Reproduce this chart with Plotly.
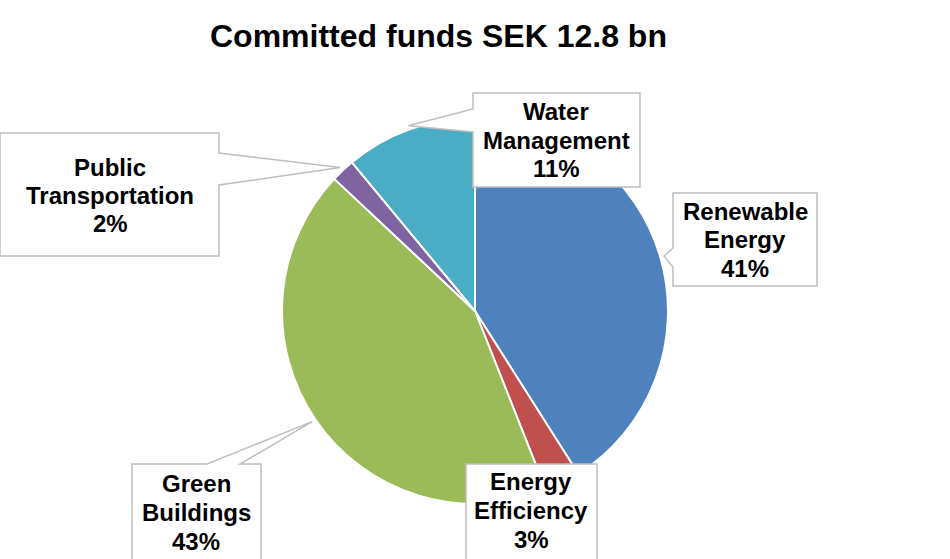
import math
import plotly.graph_objects as go

# ---------------- data ----------------
categories = ["Renewable Energy", "Energy Efficiency", "Green Buildings",
              "Public Transportation", "Water Management"]
shares = [41, 3, 43, 2, 11]
colors = ["#4F81BD", "#C0504D", "#9BBB59", "#8064A2", "#4BACC6"]
title_text = "Committed funds SEK 12.8 bn"

# ---------------- layout constants (pixels) ----------------
W, H = 950, 559
CX, CY, R = 475, 311, 193
LABEL_SIZE = 24

def px2paper(x, y):
    return x / W, 1 - y / H

# label boxes: (x0, y0, x1, y1), pointer side, pointer base (a, b), text centre x, baselines
label_layout = {
    "Renewable Energy": dict(box=(673, 193, 817, 286), side="left", base=(248, 267),
                             tx=745, lines=["Renewable", "Energy"], base_y=[220, 248, 277]),
    "Energy Efficiency": dict(box=(466, 464, 597, 600), side=None, base=None,
                              tx=531, lines=["Energy", "Efficiency"], base_y=[490, 519, 548]),
    "Green Buildings": dict(box=(132, 464, 261, 600), side="top", base=(207, 240),
                            tx=196, lines=["Green", "Buildings"], base_y=[492, 521, 550]),
    "Public Transportation": dict(box=(0, 133, 219, 256), side="right", base=(153, 185),
                                  tx=110, lines=["Public", "Transportation"], base_y=[176, 204, 232]),
    "Water Management": dict(box=(473, 93, 640, 187), side="left", base=(109, 132),
                             tx=556, lines=["Water", "Management"], base_y=[120, 149, 177]),
}

fig = go.Figure()

x0d, y0d = (CX - R) / W, 1 - (CY + R) / H
x1d, y1d = (CX + R) / W, 1 - (CY - R) / H
fig.add_trace(go.Pie(
    labels=categories, values=shares, sort=False, direction="clockwise", rotation=0,
    marker=dict(colors=colors, line=dict(color="white", width=2)),
    textinfo="none", hoverinfo="label+percent", showlegend=False,
    domain=dict(x=[x0d, x1d], y=[y0d, y1d]),
))

total = sum(shares)
cum = 0
shapes = []
annotations = []
for cat, val in zip(categories, shares):
    mid = (cum + val / 2) / total * 2 * math.pi
    cum += val
    tipx = CX + R * 1.02 * math.sin(mid)
    tipy = CY - R * 1.02 * math.cos(mid)
    L = label_layout[cat]
    bx0, by0, bx1, by1 = L["box"]
    pts = [(bx0, by0)]
    side = L["side"]
    if side == "top":
        a, b = L["base"]
        pts += [(a, by0), (tipx, tipy), (b, by0)]
    pts.append((bx1, by0))
    if side == "right":
        a, b = L["base"]
        pts += [(bx1, a), (tipx, tipy), (bx1, b)]
    pts.append((bx1, by1))
    pts.append((bx0, by1))
    if side == "left":
        a, b = L["base"]
        pts += [(bx0, b), (tipx, tipy), (bx0, a)]
    path = ""
    for i, (x, y) in enumerate(pts):
        px, py = px2paper(x, y)
        path += ("M" if i == 0 else "L") + f"{px:.5f},{py:.5f} "
    path += "Z"
    shapes.append(dict(type="path", xref="paper", yref="paper", path=path,
                       fillcolor="white", line=dict(color="#BFBFBF", width=1.5),
                       layer="above"))
    texts = L["lines"] + [f"{val}%"]
    for t, by in zip(texts, L["base_y"]):
        px, py = px2paper(L["tx"], by - 8.5)
        annotations.append(dict(text=f"<b>{t}</b>", x=px, y=py, xref="paper", yref="paper",
                                xanchor="center", yanchor="middle", showarrow=False,
                                font=dict(family="Arial, Liberation Sans", size=LABEL_SIZE,
                                          color="black")))

tx, ty = px2paper(438, 36)
annotations.append(dict(text=f"<b>{title_text}</b>", x=tx, y=ty, xref="paper", yref="paper",
                        xanchor="center", yanchor="middle", showarrow=False,
                        font=dict(family="Arial, Liberation Sans", size=32, color="black")))

fig.update_layout(
    width=W, height=H, margin=dict(l=0, r=0, t=0, b=0),
    paper_bgcolor="white", plot_bgcolor="white",
    shapes=shapes, annotations=annotations,
)

fig.write_html("out.html")
